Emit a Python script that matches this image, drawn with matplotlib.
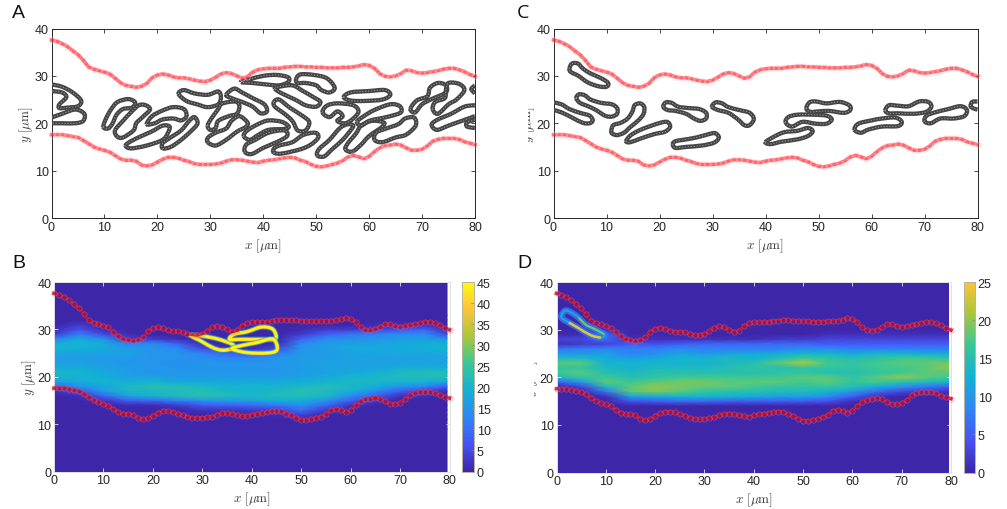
import numpy as np
import matplotlib
matplotlib.use('Agg')
import matplotlib.pyplot as plt
from matplotlib.colors import LinearSegmentedColormap, ListedColormap
from matplotlib.patches import PathPatch, Rectangle
from matplotlib.path import Path

plt.rcParams['font.family'] = ['Liberation Sans', 'DejaVu Sans']
plt.rcParams['mathtext.fontset'] = 'cm'

# channel walls
wall_x = list(range(0, 81))
wall_top = [37.6, 37.3, 36.8, 36.2, 35.3, 34.5, 33.3, 31.9, 31.4, 31.1, 30.8, 30.4, 29.5, 28.6, 28.0, 27.8, 27.6,
            27.8, 28.4, 29.6, 30.2, 30.4, 30.2, 29.8, 29.6, 29.6, 29.4, 29.1, 28.9, 28.8, 29.1, 29.7, 30.4, 30.7,
            30.5, 30.0, 29.5, 29.8, 30.8, 31.3, 31.5, 31.6, 31.6, 31.6, 31.8, 31.9, 32.0, 32.0, 31.9, 31.9, 31.8,
            31.8, 31.7, 31.7, 31.7, 31.8, 31.8, 31.9, 32.1, 32.4, 32.2, 31.6, 30.5, 29.9, 29.8, 30.0, 30.5, 31.2,
            31.1, 30.7, 30.6, 30.7, 30.9, 31.1, 31.4, 31.6, 31.6, 31.3, 30.9, 30.3, 29.9]
wall_bot = [17.6, 17.6, 17.6, 17.4, 17.2, 17.0, 16.4, 15.7, 15.0, 14.6, 14.3, 13.9, 13.2, 12.5, 12.2, 12.2, 12.0,
            11.2, 11.0, 11.2, 11.8, 12.4, 12.8, 12.8, 12.6, 12.2, 11.9, 11.5, 11.3, 11.3, 11.3, 11.4, 11.6, 12.0,
            12.3, 12.3, 12.2, 12.0, 11.8, 11.7, 12.0, 12.2, 12.3, 12.5, 12.7, 12.8, 12.7, 12.2, 11.9, 11.3, 10.9,
            10.8, 11.0, 11.3, 11.6, 12.1, 12.9, 13.2, 12.9, 12.5, 13.0, 14.0, 14.8, 15.3, 15.4, 15.6, 15.4, 14.8,
            14.3, 14.3, 14.5, 15.2, 16.2, 16.6, 16.8, 16.8, 16.8, 16.6, 16.1, 15.8, 15.5]

# cell outlines of panel A (closed)
cells_a = [
    [(9.8, 19.2), (10.3, 21), (11.3, 23), (12.5, 24.5), (14.5, 25.1), (15.8, 24.4), (15.2, 23.3), (13.5, 23), (12.3, 21.8), (11.5, 19.9), (10.7, 18.9)],
    [(12, 18.5), (13.5, 20.5), (15, 22.3), (16.5, 23.8), (17.8, 23.8), (18.6, 22.9), (17.2, 21.3), (16, 20), (15.5, 18.5), (13.5, 17), (12.4, 17.2)],
    [(14, 15.3), (15, 14.7), (18, 15.3), (21, 16.5), (22, 18), (22.3, 19.3), (21, 19.5), (19, 18.3), (17, 17.3), (15, 16.2)],
    [(18, 19.8), (19, 21.5), (21, 22.7), (23, 23.4), (25, 23), (25.5, 21.5), (24.5, 20.6), (23, 21), (21, 20.8), (19.5, 20)],
    [(21, 14.7), (22.5, 15), (24.5, 16.5), (26.5, 18.5), (27.6, 20), (27, 21.3), (26, 20.5), (24.5, 18.5), (22.5, 17), (21, 15.8)],
    [(24, 26.2), (25, 27), (27, 26.3), (29.5, 26), (31.5, 26.7), (32, 25.5), (31.5, 24), (29.5, 23.4), (27.5, 24), (25.5, 24.7)],
    [(29.5, 19.5), (30.2, 21), (31.5, 23), (32, 24), (33.5, 24.5), (35, 24.5), (35.5, 23.5), (35, 22), (33.5, 21.5), (31.5, 20.5), (31, 19), (30, 18.6)],
    [(29.5, 16), (31, 15.3), (33, 16.5), (35, 18.2), (36.8, 19.3), (37, 20.2), (35.5, 21.5), (34, 20.5), (33, 18.9), (31, 18), (29.6, 17)],
    [(33, 26), (34.5, 27.3), (36, 26.5), (38, 25.3), (40.2, 24), (40.7, 22.5), (39.5, 22.1), (38, 23.5), (36, 24.5), (34, 25.3)],
    [(35.8, 28.7), (37.5, 29.3), (40, 30), (42.5, 30.2), (44.7, 29.7), (44.7, 28.7), (43, 28), (40.5, 28.2), (38, 28.5)],
    [(36.3, 17.3), (37, 18.5), (39, 19.8), (41, 20.6), (43.5, 20.3), (44.8, 19.3), (44, 18.8), (41, 18.6), (39, 17.5), (37.5, 16.5)],
    [(36.5, 14), (37.8, 13.5), (40, 14.8), (42.5, 16), (44.5, 17.3), (44, 18.5), (41, 18), (38.5, 16.5), (36.8, 15.5)],
    [(42, 13.8), (43.5, 13.6), (47, 14.5), (49, 15.5), (50.4, 17), (49.8, 18), (47.5, 17.5), (45.5, 16), (43, 15.3), (42, 14.6)],
    [(42.2, 27.3), (43, 27.7), (45.5, 28), (47.5, 26.8), (49.5, 25.5), (50.8, 24.5), (50, 23.5), (48, 23.8), (46, 25), (43.5, 26.3)],
    [(42, 24.5), (43, 25), (45, 23.3), (47.5, 21.5), (48.7, 20.2), (48, 18.5), (46.5, 18.5), (45.5, 20.5), (44, 22), (42.2, 23.5)],
    [(46.2, 29.3), (47, 30.3), (49.5, 30.2), (52, 29.5), (53.5, 27.5), (52.5, 26.5), (51, 27), (50, 28), (48, 28.5), (46.5, 28.5)],
    [(50.2, 13.2), (51.5, 13), (53, 14.5), (55, 16.5), (56.5, 18.5), (57, 19.5), (56, 19.8), (54.5, 19), (52.5, 16.5), (50.5, 14.5)],
    [(51.2, 22.3), (52, 23.7), (54, 24.2), (57, 23.8), (58, 22.5), (57, 21), (55.5, 20), (54, 20.5), (55, 21.5), (54, 22.5), (52.5, 21.3)],
    [(55.2, 25.5), (56.5, 26.5), (60, 26.8), (63, 27), (64, 26), (62.5, 25), (59, 24.7), (56.5, 24.8)],
    [(55.5, 14.5), (56.8, 14), (58.5, 15.5), (60, 17.3), (62.5, 19.3), (62.7, 20.2), (60.5, 20.5), (58.5, 19.5), (57.5, 17.8), (56, 15.8)],
    [(57.7, 20.3), (59, 21.5), (61, 22.8), (64, 24), (65.8, 23.6), (66, 22.3), (64, 21.5), (62, 21), (60, 20.5), (58.5, 19.5)],
    [(61, 16.5), (62.5, 16), (65, 17), (67, 17.6), (68.8, 19.5), (68.5, 21.2), (66.8, 21), (65.5, 19.8), (63, 18.8), (61.3, 18)],
    [(67.8, 23), (68.7, 22.3), (70, 24), (72, 25.2), (74.5, 26.5), (74.5, 28), (73, 28.5), (71.5, 27.5), (71, 25.7), (69, 24.8)],
    [(72, 23), (73, 22), (75, 24), (76.5, 25), (78, 27), (77, 28.3), (75, 28.5), (74.5, 27), (74.3, 25.3), (72.5, 24.5)],
]
# cells of panel A cut by the periodic edge (open)
edge_a = [
    [(0, 28.2), (2, 27.7), (4, 26.5), (5.6, 24.8), (5, 23.6), (3, 23.3), (1.5, 23.2), (1.5, 24), (2.8, 25.5), (2, 26.5), (0, 26.8)],
    [(0, 21.2), (2, 22), (4.5, 22.9), (6.2, 22), (6, 20.5), (4.5, 20), (2, 20), (0, 20)],
    [(80, 23.8), (78, 23.5), (75.5, 22), (73, 20.8), (71.8, 19.7), (72.8, 18.6), (75, 19.5), (78, 20.7), (80, 21.5)],
    [(80, 20.7), (78.5, 20.2), (78.5, 19.3), (80, 19)],
    [(80, 28), (79.3, 27.2), (80, 26.3)],
]

# cell outlines of panel C
cells_c = [
    [(3, 31.5), (3.5, 32.6), (4.6, 32.6), (5.6, 31.5), (7, 30.5), (9, 29.5), (10.3, 28.5), (10, 27.7), (8.5, 27.8), (6.5, 28.6), (4.7, 30), (3.3, 30.8)],
    [(4.3, 25.3), (4.8, 26.1), (5.9, 25.9), (7, 25), (9, 24.3), (11, 24), (12, 23.2), (12, 22), (11, 21.4), (9.7, 21.6), (8, 22.8), (6.5, 23.6), (5, 24.3)],
    [(10.9, 18.4), (11.3, 19.6), (12.7, 20.1), (14, 21), (14.9, 22.5), (15.3, 23.8), (16.3, 24.2), (17.1, 23.5), (17, 22), (16, 20.6), (14.5, 19.2), (13.3, 18), (12, 17.5), (11.1, 17.8)],
    [(13.7, 16.2), (14.5, 16), (16.5, 16.8), (19, 17.7), (21, 18.2), (22, 19.2), (21.6, 20.2), (20.5, 20.2), (18, 19.3), (16, 18.4), (14.5, 17.4)],
    [(20.7, 23.5), (21.2, 24.4), (22.3, 24.3), (23.5, 23.5), (25.5, 23.2), (27.5, 23), (28.8, 22.2), (28.8, 21), (27.7, 20.5), (26.5, 21), (25, 22), (23, 22.6), (21.5, 22.8)],
    [(22.5, 15.6), (23, 14.8), (25, 15), (28, 15.3), (30.3, 15.9), (31.2, 17), (30.5, 17.9), (29.3, 17.7), (27, 17), (24.5, 16.5), (23, 16.2)],
    [(29.9, 23.5), (30.6, 24.4), (31.8, 24.2), (33, 23.4), (35, 22.8), (37, 22.2), (37.8, 20.9), (37, 19.6), (36, 19.6), (34.8, 20.8), (33, 22.2), (31, 22.8)],
    [(40, 16), (41, 15.6), (43, 16.1), (46, 16.6), (48, 17.3), (48.9, 18.3), (48, 19), (46, 18.4), (43.5, 18.1), (41.5, 17.1)],
    [(43.8, 20.2), (44.3, 21.3), (46, 21.8), (49, 21.8), (51.5, 21.6), (52.5, 20.8), (51.5, 19.9), (49.5, 19.9), (47, 20.3), (45, 19.3)],
    [(47.7, 23.1), (48.3, 24.4), (49.5, 24.6), (51.5, 24.2), (54, 24.5), (55.8, 23.8), (56, 22.8), (54.8, 22.2), (52, 22.6), (50, 22.5), (48.5, 22.4)],
    [(56.8, 18.6), (57.5, 19.9), (60, 20.6), (62, 21), (64.5, 21.2), (65.7, 20.3), (65, 19.4), (62, 19.3), (59.5, 18.7), (58, 18)],
    [(62.6, 22.7), (63.3, 23.8), (65, 23.7), (67, 23.6), (69, 24.6), (70.7, 24.5), (71.3, 23.5), (70.3, 22.4), (68, 22), (65, 22.1), (63.3, 22.1)],
    [(70, 20.4), (70.4, 21.6), (72, 22.3), (74.5, 23), (76.8, 23.6), (78, 22.8), (77.5, 21.5), (75.5, 21), (73, 21), (71.2, 20)],
]
edge_c = [
    [(0, 24.4), (1.5, 24), (3, 23), (5, 22.2), (6.8, 21.6), (7.4, 20.6), (6.8, 20), (5.5, 20.1), (3.5, 21.2), (1.5, 22.3), (0, 22.8)],
    [(80, 24.6), (79, 24.5), (78.7, 23.6), (79.3, 23.1), (80, 22.9)],
]

# time averaged field, one column per x position, rows y = 10..32
field_x = [0, 5, 10, 15, 20, 25, 30, 35, 40, 45, 50, 55, 60, 65, 70, 75, 79.5]
field_y = [0, 9] + list(range(10, 33)) + [33, 39.7]
field_b = [
    [0, 0, 0, 0, 0, 0, 0, 1, 8, 17, 21, 21, 18, 17, 16, 18, 20, 19, 12, 3, 1, 0, 0],
    [0, 0, 0, 0, 0, 0, 1, 7, 15, 18, 20, 20, 18, 17, 16, 17, 19, 20, 18, 12, 6, 3, 0],
    [0, 0, 0, 0, 0, 2, 9, 16, 18, 20, 19, 18, 17, 16, 16, 17, 18, 19, 14, 5, 1, 0, 0],
    [0, 0, 0, 0, 1, 8, 17, 21, 21, 19, 17, 16, 16, 15, 16, 17, 16, 12, 3, 1, 0, 0, 0],
    [0, 0, 0, 0, 1, 9, 20, 21, 23, 20, 17, 15, 15, 15, 15, 15, 15, 14, 3, 0, 0, 0, 0],
    [0, 0, 0, 0, 3, 12, 22, 22, 22, 18, 16, 15, 15, 14, 15, 15, 14, 8, 1, 0, 0, 0, 0],
    [0, 0, 0, 2, 7, 15, 23, 23, 21, 18, 16, 15, 15, 15, 14, 12, 5, 1, 0, 0, 0, 0, 0],
    [0, 0, 0, 2, 8, 16, 22, 21, 20, 18, 16, 15, 15, 15, 13, 8, 1, 0, 0, 0, 0, 0, 0],
    [0, 0, 0, 3, 9, 17, 21, 20, 20, 18, 16, 15, 15, 15, 13, 6, 1, 0, 0, 0, 0, 0, 0],
    [0, 0, 1, 4, 11, 19, 22, 21, 20, 18, 16, 15, 15, 15, 15, 11, 5, 1, 0, 0, 0, 0, 0],
    [0, 0, 4, 10, 14, 19, 22, 23, 21, 19, 17, 16, 16, 16, 16, 16, 15, 14, 8, 3, 1, 0, 0],
    [0, 0, 0, 3, 9, 15, 21, 22, 22, 20, 18, 17, 17, 17, 16, 16, 16, 16, 14, 8, 3, 0, 0],
    [0, 0, 0, 0, 2, 8, 14, 19, 21, 21, 20, 18, 17, 17, 17, 17, 18, 17, 14, 11, 3, 0, 0],
    [0, 0, 0, 0, 0, 2, 8, 14, 19, 21, 21, 19, 17, 17, 17, 18, 18, 17, 15, 12, 4, 1, 0],
    [0, 0, 0, 0, 0, 0, 2, 8, 15, 20, 22, 21, 19, 17, 17, 18, 18, 18, 16, 14, 6, 1, 0],
    [0, 0, 0, 0, 0, 0, 1, 5, 13, 20, 22, 22, 19, 17, 17, 18, 19, 19, 16, 14, 8, 1, 0],
    [0, 0, 0, 0, 0, 0, 0, 1, 8, 18, 23, 22, 19, 17, 17, 18, 20, 19, 15, 5, 1, 0, 0],
]
field_d = [
    [0, 0, 0, 0, 0, 0, 0, 0, 0, 5, 14, 17, 16, 18, 14, 10, 7, 1, 3, 0, 0, 0, 0],
    [0, 0, 0, 0, 0, 0, 0, 0, 3, 10, 16, 18, 16, 18, 14, 10, 8, 2, 3, 1, 0, 0, 0],
    [0, 0, 0, 0, 0, 0, 1, 7, 14, 18, 17, 15, 14, 13, 12, 11, 8, 3, 6, 6, 1, 0, 0],
    [0, 0, 0, 0, 0, 4, 11, 18, 18, 17, 15, 14, 13, 13, 11, 8, 8, 5, 1, 0, 0, 0, 0],
    [0, 0, 0, 0, 0, 5, 12, 19, 20, 18, 16, 15, 14, 13, 12, 9, 8, 4, 1, 0, 0, 0, 0],
    [0, 0, 0, 0, 0, 6, 13, 18, 19, 19, 17, 15, 14, 13, 13, 11, 9, 5, 1, 0, 0, 0, 0],
    [0, 0, 0, 0, 0, 6, 13, 16, 18, 19, 17, 15, 14, 13, 13, 10, 8, 6, 1, 0, 0, 0, 0],
    [0, 0, 0, 0, 0, 5, 13, 15, 18, 18, 17, 15, 15, 14, 14, 11, 8, 6, 1, 0, 0, 0, 0],
    [0, 0, 0, 0, 0, 5, 12, 15, 17, 18, 17, 15, 16, 15, 13, 12, 8, 6, 1, 0, 0, 0, 0],
    [0, 0, 0, 0, 0, 5, 11, 14, 16, 18, 17, 16, 15, 18, 15, 12, 8, 6, 2, 0, 0, 0, 0],
    [0, 0, 0, 0, 0, 5, 11, 14, 16, 17, 18, 16, 16, 21, 17, 13, 9, 6, 2, 0, 0, 0, 0],
    [0, 0, 0, 0, 0, 4, 9, 13, 16, 18, 18, 15, 16, 17, 16, 13, 9, 5, 3, 1, 0, 0, 0],
    [0, 0, 0, 0, 0, 1, 5, 10, 15, 16, 16, 15, 16, 16, 15, 12, 8, 5, 3, 1, 0, 0, 0],
    [0, 0, 0, 0, 0, 0, 1, 6, 12, 17, 18, 16, 17, 17, 16, 13, 8, 5, 3, 1, 0, 0, 0],
    [0, 0, 0, 0, 0, 0, 0, 3, 9, 15, 20, 17, 17, 18, 17, 13, 8, 5, 3, 1, 0, 0, 0],
    [0, 0, 0, 0, 0, 0, 0, 2, 7, 14, 18, 18, 18, 18, 17, 12, 8, 5, 3, 1, 0, 0, 0],
    [0, 0, 0, 0, 0, 0, 0, 1, 5, 13, 17, 18, 20, 19, 16, 12, 8, 5, 3, 1, 0, 0, 0],
]

# bright cells stuck near the wall in the field panels
loops_b = [
    [(27.5, 28.8), (30, 28.6), (33, 28), (36, 26.9), (36.3, 26), (34, 25.6), (32, 26.2), (29.8, 27.5)],
    [(35.5, 27.9), (36.5, 29), (39, 29.5), (42, 30.5), (44.3, 30), (44.8, 28), (42, 27.9), (38, 27.9)],
    [(36, 25.9), (38, 26.6), (41, 27.2), (44, 28), (45, 27), (45, 25.5), (43, 25), (39, 25.1)],
]
loop_d = [(1, 33), (1.8, 34), (3, 33.6), (4.5, 32.5), (6, 31), (8, 30), (9.7, 29), (9, 28.3), (7, 28.8), (4.5, 30.3), (2.5, 31.5), (1.2, 32.3)]

x_ticks = list(range(0, 81, 10))
y_ticks = [0, 10, 20, 30, 40]
cbar_ticks_b = list(range(0, 46, 5))
cbar_ticks_d = [0, 5, 10, 15, 20, 25]

W, H = 1007, 510
parula = LinearSegmentedColormap.from_list('parula', [
    (0.2422, 0.1504, 0.6603), (0.2810, 0.3228, 0.9579), (0.1786, 0.5289, 0.9682),
    (0.0689, 0.6948, 0.8394), (0.2161, 0.7843, 0.5923), (0.6720, 0.7793, 0.2227),
    (0.9970, 0.7659, 0.2199), (0.9769, 0.9839, 0.0805)])
parula_d = ListedColormap(parula(np.linspace(0, 0.85, 256)))


def px_axes(left, right, top, bottom):
    return fig.add_axes([left / W, 1 - bottom / H, (right - left) / W, (bottom - top) / H])


def smooth_path(pts, closed=True):
    # cubic bezier passing through the read points
    pts = [np.array(p, float) for p in pts]
    n = len(pts)
    verts = [pts[0]]
    codes = [Path.MOVETO]
    last = n if closed else n - 1
    for i in range(last):
        if closed:
            p0, p1, p2, p3 = pts[i - 1], pts[i], pts[(i + 1) % n], pts[(i + 2) % n]
        else:
            p0, p1, p2, p3 = pts[max(i - 1, 0)], pts[i], pts[i + 1], pts[min(i + 2, n - 1)]
        verts += [p1 + (p2 - p0) / 6, p2 - (p3 - p1) / 6, p2]
        codes += [Path.CURVE4, Path.CURVE4, Path.CURVE4]
    return Path(verts, codes)


def style_axes(ax, faint=False):
    ax.set_xlim(0, 80)
    ax.set_ylim(0, 40)
    ax.set_xticks(x_ticks)
    ax.set_yticks(y_ticks)
    col = '#e0e0e0' if faint else '#262626'
    ax.tick_params(direction='in', top=True, right=True, length=3, width=0.6, color=col,
                   labelsize=9, labelcolor='#262626', pad=2)
    for s in ax.spines.values():
        s.set_color(col)
        s.set_linewidth(0.7)
    ax.set_xlabel(r'$x\ [\mu\mathrm{m}]$', fontsize=9.5, color='#404040', labelpad=2.5)


def add_ylabel(ax):
    ax.set_ylabel(r'$y\ [\mu\mathrm{m}]$', fontsize=9.5, color='#404040', labelpad=-0.4)


def draw_walls(ax, band, ring):
    for y in (wall_top, wall_bot):
        ax.plot(wall_x, y, '-', color=band, lw=2.6, clip_on=False, zorder=4)
        ax.plot(wall_x, y, 'o', ms=3.8, mfc='none', mec=ring, mew=0.5, clip_on=False, zorder=5)


def draw_cells(ax, closed_cells, open_cells):
    for cells, closed in ((closed_cells, True), (open_cells, False)):
        for c in cells:
            p = smooth_path(c, closed)
            ax.add_patch(PathPatch(p, fc='none', ec='#454545', lw=3.1, zorder=3))
            ax.add_patch(PathPatch(p, fc='none', ec='#a8a8a8', lw=0.6, ls=(0, (1.5, 2)), zorder=3))


def draw_field(ax, cax, columns, cmap, vmax, ticks):
    z = np.array(columns, float).T
    z = np.vstack([np.zeros((2, z.shape[1])), z, np.zeros((2, z.shape[1]))])
    mesh = ax.pcolormesh(field_x, field_y, z, shading='gouraud', cmap=cmap, vmin=0, vmax=vmax, zorder=1)
    cb = fig.colorbar(mesh, cax=cax, ticks=ticks)
    cb.ax.tick_params(length=2, width=0.5, direction='in', labelsize=9, labelcolor='#262626', pad=2, color='#888888')
    cb.outline.set_edgecolor('#b8b49a')
    cb.outline.set_linewidth(0.7)
    return mesh


fig = plt.figure(figsize=(W / 100, H / 100), dpi=100)
pink = ((1, 0.15, 0.2, 0.7), (1, 0.75, 0.75, 0.7))
crimson = ((0.72, 0.06, 0.22, 0.85), (0.95, 0.35, 0.4, 0.6))

# A
ax_a = px_axes(51.5, 475, 29.5, 219)
style_axes(ax_a)
draw_cells(ax_a, cells_a, edge_a)
draw_walls(ax_a, *pink)
add_ylabel(ax_a)

# C
ax_c = px_axes(553.5, 977.5, 29.5, 219)
style_axes(ax_c)
draw_cells(ax_c, cells_c, edge_c)
draw_walls(ax_c, *pink)
add_ylabel(ax_c)

# B
ax_b = px_axes(54, 449.5, 283, 472.5)
cax_b = px_axes(462, 474, 283, 472.5)
style_axes(ax_b, faint=True)
draw_field(ax_b, cax_b, field_b, parula, 45, cbar_ticks_b)
for loop in loops_b:
    p = smooth_path(loop)
    ax_b.add_patch(PathPatch(p, fc='none', ec=parula(0.42), lw=4.0, alpha=0.6, zorder=2))
    ax_b.add_patch(PathPatch(p, fc='none', ec=parula(0.88), lw=2.6, zorder=2))
    ax_b.add_patch(PathPatch(p, fc='none', ec=parula(1.0), lw=1.4, zorder=2))
draw_walls(ax_b, *crimson)
add_ylabel(ax_b)

# D
ax_d = px_axes(556.5, 951, 283, 473.5)
cax_d = px_axes(964, 975, 283, 473.5)
style_axes(ax_d, faint=True)
draw_field(ax_d, cax_d, field_d, parula_d, 25, cbar_ticks_d)
p = smooth_path(loop_d)
ax_d.add_patch(PathPatch(p, fc='none', ec=parula_d(0.3), lw=4.5, alpha=0.8, zorder=2))
ax_d.add_patch(PathPatch(p, fc='none', ec=parula_d(0.45), lw=1.6, zorder=2))
ax_d.add_patch(PathPatch(smooth_path(loop_d[3:7], False), fc='none', ec=parula_d(0.75), lw=1.5, zorder=2))
ax_d.add_patch(PathPatch(smooth_path(loop_d[7:11], False), fc='none', ec=parula_d(0.95), lw=1.8, zorder=2))
draw_walls(ax_d, *crimson)
add_ylabel(ax_d)

# panel letters
fig.text(12 / W, 1 - 18 / H, 'A', fontsize=14, color='#111111')
fig.text(12 / W, 1 - 268 / H, 'B', fontsize=14, color='#111111')
fig.text(517 / W, 1 - 18 / H, 'C', fontsize=14, color='#111111', family='Open Sans')
fig.text(517 / W, 1 - 268 / H, 'D', fontsize=14, color='#111111')

# y labels of the right panels are cut on their left side in the source
fig.add_artist(Rectangle((515 / W, 1 - 170 / H), 13 / W, 100 / H, transform=fig.transFigure, fc='white', ec='none', zorder=10))
fig.add_artist(Rectangle((515 / W, 1 - 420 / H), 19 / W, 100 / H, transform=fig.transFigure, fc='white', ec='none', zorder=10))

fig.savefig('out.png', dpi=100)
